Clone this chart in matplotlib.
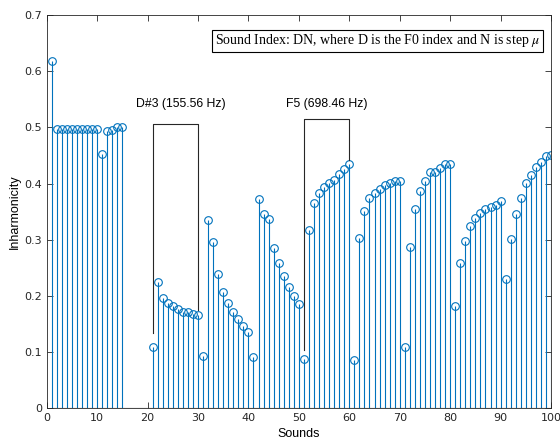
import numpy as np
import matplotlib.pyplot as plt

plt.rcParams['mathtext.fontset'] = 'stix'

# sounds 1-15 and 21-100 (16-20 missing)
sounds = list(range(1, 16)) + list(range(21, 101))
inharm = [0.618, 0.497, 0.497, 0.497, 0.497, 0.497, 0.497, 0.497, 0.497, 0.497,
          0.453, 0.493, 0.496, 0.500, 0.501,
          0.110, 0.225, 0.197, 0.188, 0.182, 0.177, 0.172, 0.171, 0.168, 0.166,
          0.093, 0.335, 0.296, 0.239, 0.207, 0.188, 0.172, 0.159, 0.147, 0.136,
          0.092, 0.373, 0.346, 0.337, 0.285, 0.259, 0.236, 0.216, 0.200, 0.186,
          0.088, 0.317, 0.366, 0.383, 0.394, 0.401, 0.406, 0.417, 0.426, 0.435,
          0.086, 0.303, 0.351, 0.375, 0.383, 0.391, 0.398, 0.401, 0.405, 0.405,
          0.109, 0.287, 0.355, 0.387, 0.405, 0.421, 0.421, 0.428, 0.435, 0.435,
          0.182, 0.259, 0.298, 0.325, 0.339, 0.348, 0.355, 0.359, 0.362, 0.369,
          0.230, 0.302, 0.346, 0.375, 0.401, 0.415, 0.430, 0.439, 0.449, 0.451]

# bracket annotations: x (left, right), y (left bottom, top, right bottom)
d3_x = [21, 30]
d3_y = [0.134, 0.506, 0.175]
d3_label = 'D#3 (155.56 Hz)'
f5_x = [51, 60]
f5_y = [0.104, 0.515, 0.442]
f5_label = 'F5 (698.46 Hz)'
box_label = r'Sound Index: DN, where D is the F0 index and N is step $\mu$'

blue = '#0072BD'

fig = plt.figure(figsize=(5.6, 4.44), dpi=100)
ax = fig.add_axes([0.0834, 0.080, 0.9006, 0.886])

ml, sl, bl = ax.stem(sounds, inharm, basefmt='k-')
plt.setp(sl, color=blue, linewidth=0.8)
plt.setp(ml, markerfacecolor='none', markeredgecolor=blue, markersize=5.5, markeredgewidth=0.8)
plt.setp(bl, color='#262626', linewidth=0.8)

for bx, by in [(d3_x, d3_y), (f5_x, f5_y)]:
    ax.plot([bx[0], bx[0], bx[1], bx[1]], [by[0], by[1], by[1], by[2]],
            color='#262626', linewidth=0.8)

ax.text(26.5, 0.542, d3_label, ha='center', va='center', fontsize=8.8,
        family='Liberation Sans')
ax.text(55.5, 0.542, f5_label, ha='center', va='center', fontsize=8.8,
        family='Liberation Sans')
ax.text(65.6, 0.654, box_label, ha='center', va='center', fontsize=10,
        family='Liberation Serif',
        bbox=dict(boxstyle='square,pad=0.2', facecolor='white', edgecolor='black', linewidth=0.8))

ax.set_xlim(0, 100)
ax.set_ylim(0, 0.7)
ax.set_xticks(np.arange(0, 101, 10))
ax.set_yticks(np.arange(0, 0.71, 0.1))
ax.set_yticklabels(['0', '0.1', '0.2', '0.3', '0.4', '0.5', '0.6', '0.7'])
ax.tick_params(direction='in', top=True, right=True, labelsize=8, length=4,
               width=0.6, color='#262626', labelcolor='#262626')
for s in ax.spines.values():
    s.set_linewidth(0.6)
    s.set_color('#262626')
ax.set_xlabel('Sounds', fontsize=9, family='Liberation Sans', labelpad=3)
ax.set_ylabel('Inharmonicity', fontsize=9, family='Liberation Sans', labelpad=2)

fig.savefig('out.png', dpi=100)
